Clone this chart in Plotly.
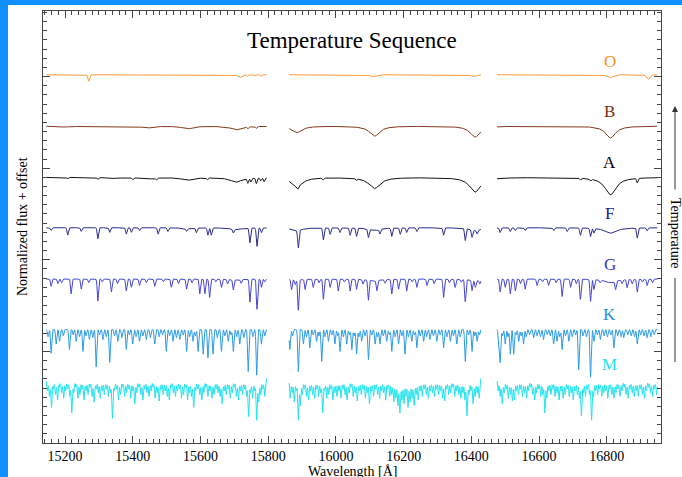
import numpy as np
import plotly.graph_objects as go

# ---------------- data ----------------
CHUNK_START = [15145, 15862, 16476]
CHUNK_END = [15795, 16428, 16949]

STARS = ["O", "B", "A", "F", "G", "K", "M"]
LEVELS = [4.02, 3.46, 2.90, 2.35, 1.79, 1.24, 0.71]      # continuum level (normalized flux + offset)
LABEL_Y = [4.17, 3.62, 3.06, 2.51, 1.95, 1.40, 0.86]
LABEL_WL = 16808
COLORS = ["#ff9a3c", "#84391c", "#111111", "#2a2a8c", "#4444d4", "#2b9ae8", "#22e4ee"]
LABEL_COLORS = ["#ff8c1a", "#7a2d12", "#000000", "#20207e", "#3434c8", "#1e94e0", "#1fe0ea"]

# Brackett series (hydrogen) and depths in % of continuum
BR_WL = [15197, 15265, 15345, 15443, 15561, 15705, 15885, 16114, 16411, 16811]
B_BR_DEPTH = [1, 1, 1, 2, 3, 4, 7, 11, 12, 13]
A_BR_DEPTH = [0, 0, 1, 2, 3, 5, 10, 12, 16, 19]
F_BR_DEPTH = [0, 0, 0, 0, 1, 2, 3, 3, 3, 6]
G_BR_DEPTH = [0, 0, 0, 0, 0, 1, 1, 2, 2, 4]

# O star features
O_WL = [15270, 15716, 15740, 15762, 15780, 16108, 16406, 16808, 16923]
O_DEPTH = [7, 3, 1.5, 1, 1.5, 2, 2, 3, 5]
O_SIGMA = [2.5, 6, 2, 2, 2, 10, 8, 10, 5]

# B star metal lines
B_WL = [15740, 15765]
B_DEPTH = [2, 2]

# A star metal lines
A_WL = [15208, 15297, 15400, 15470, 15620, 15740, 15749, 15765, 15778, 15788,
        15888, 15962, 16060, 16722, 16752, 16890]
A_DEPTH = [1.5, 2, 2, 2, 2, 5, 4, 6, 3, 4, 3, 2, 2, 2, 2, 5]

# F star lines
F_WL = [15159, 15208, 15248, 15297, 15332, 15381, 15396, 15420, 15475, 15504,
        15559, 15588, 15622, 15632, 15697, 15746, 15767, 15780,
        15889, 15963, 15983, 16012, 16042, 16061, 16096, 16130, 16165, 16190,
        16209, 16239, 16318, 16382, 16402, 16417,
        16485, 16515, 16530, 16559, 16643, 16683, 16722, 16752, 16762, 16890, 16919]
F_DEPTH = [3, 8, 4, 12, 5, 7, 5, 3, 7, 4,
           3, 5, 8, 8, 4, 16, 20, 5,
           19, 13, 7, 5, 8, 9, 9, 5, 9, 7,
           5, 4, 8, 13, 8, 4,
           5, 4, 3, 3, 3, 4, 8, 9, 5, 11, 3]

# G star lines
G_WL = [15159, 15179, 15218, 15248, 15297, 15337, 15381, 15396, 15420, 15465,
        15514, 15559, 15598, 15613, 15627, 15662, 15697, 15746, 15767, 15780,
        15869, 15889, 15909, 15933, 15963, 15983, 16007, 16042, 16061, 16096,
        16121, 16165, 16185, 16209, 16239, 16269, 16318, 16352, 16382, 16402, 16412,
        16485, 16500, 16515, 16530, 16559, 16594, 16628, 16668, 16693, 16722,
        16752, 16762, 16826, 16860, 16890, 16919,
        15190, 15270, 15310, 15355, 15440, 15490, 15535, 15575, 15645, 15680,
        15720, 15790, 15880, 15950, 16025, 16080, 16145, 16225, 16290, 16335,
        16370, 16425, 16545, 16610, 16650, 16710, 16780, 16845, 16875, 16905, 16935]
G_DEPTH = [8, 5, 16, 11, 24, 14, 13, 9, 7, 8,
           9, 11, 16, 16, 20, 9, 11, 25, 33, 9,
           11, 33, 11, 9, 22, 9, 13, 13, 11, 22,
           11, 16, 11, 13, 9, 7, 20, 9, 24, 11, 7,
           14, 9, 16, 13, 11, 7, 7, 19, 9, 22,
           24, 11, 9, 9, 14, 7,
           4, 4, 3, 5, 4, 3, 5, 4, 3, 5,
           4, 3, 5, 4, 3, 5, 4, 3, 5, 4,
           3, 4, 5, 3, 4, 5, 3, 4, 5, 3, 4]

# K star lines
K_WL = [15159, 15174, 15184, 15213, 15233, 15253, 15272, 15292, 15312, 15332,
        15356, 15381, 15400, 15420, 15440, 15465, 15499, 15519, 15539, 15559,
        15578, 15593, 15608, 15622, 15637, 15662, 15682, 15697, 15716, 15741,
        15766, 15780,
        15150, 15195, 15224, 15243, 15262, 15282, 15302, 15322, 15346, 15368,
        15390, 15410, 15430, 15452, 15478, 15488, 15509, 15529, 15549, 15568,
        15585, 15650, 15672, 15690, 15707, 15728, 15755, 15790,
        15864, 15889, 15904, 15923, 15943, 15958, 15978, 15997, 16012, 16032,
        16047, 16061, 16076, 16096, 16116, 16130, 16150, 16165, 16185, 16204,
        16224, 16239, 16259, 16278, 16298, 16318, 16338, 16357, 16382, 16402, 16417,
        15872, 15913, 15933, 15950, 15968, 15988, 16005, 16022, 16040, 16054,
        16068, 16086, 16106, 16123, 16140, 16158, 16175, 16195, 16214, 16232,
        16249, 16268, 16288, 16308, 16328, 16347, 16367, 16392, 16410, 16424,
        16481, 16485, 16500, 16515, 16525, 16540, 16554, 16584, 16613, 16643,
        16653, 16668, 16688, 16717, 16752, 16762, 16781, 16821, 16850, 16890, 16919,
        16492, 16508, 16532, 16547, 16562, 16572, 16594, 16604, 16624, 16633,
        16661, 16678, 16698, 16708, 16730, 16740, 16772, 16792, 16802, 16812,
        16832, 16842, 16862, 16872, 16882, 16900, 16910, 16930, 16940]
K_DEPTH = [26, 16, 13, 22, 13, 24, 11, 41, 11, 36,
           13, 22, 16, 13, 11, 16, 24, 13, 11, 24,
           13, 24, 27, 31, 27, 24, 13, 24, 16, 46,
           50, 16,
           8, 7, 6, 8, 7, 9, 6, 8, 7, 9,
           6, 8, 7, 9, 8, 6, 7, 9, 6, 8,
           7, 9, 7, 6, 8, 9, 8, 7,
           22, 46, 16, 20, 13, 35, 13, 16, 24, 16,
           22, 27, 13, 33, 16, 16, 13, 24, 16, 27,
           13, 20, 13, 11, 13, 20, 13, 16, 35, 24, 13,
           7, 8, 6, 7, 8, 6, 7, 8, 6, 7,
           8, 7, 6, 8, 7, 6, 8, 7, 8, 6,
           7, 8, 7, 6, 8, 7, 8, 6, 7, 6,
           16, 35, 16, 27, 27, 13, 16, 9, 11, 16,
           13, 22, 13, 44, 52, 13, 11, 20, 9, 16, 9,
           7, 8, 6, 7, 8, 6, 7, 8, 6, 7,
           8, 7, 8, 6, 7, 8, 6, 7, 8, 6,
           7, 8, 6, 7, 8, 6, 7, 8, 6]

# M star: dense line forest, one line every 6 A from each chunk start (depth in %)
M_STEP = 6
M_DEPTH_1 = [14, 20, 32, 12, 18, 24, 10, 16, 22, 14,
             12, 20, 38, 16, 10, 22, 18, 12, 24, 14,
             18, 10, 20, 26, 12, 16, 22, 14, 18, 12,
             20, 16, 44, 14, 12, 24, 18, 10, 20, 16,
             12, 22, 14, 28, 16, 10, 18, 24, 12, 16,
             20, 14, 10, 22, 16, 25, 12, 18, 14, 20,
             24, 10, 16, 20, 14, 12, 22, 18, 10, 24,
             16, 20, 32, 14, 12, 18, 24, 16, 10, 20,
             14, 22, 18, 12, 16, 20, 28, 14, 18, 12,
             22, 16, 10, 20, 24, 14, 18, 12, 20, 42,
             16, 22, 14, 46, 26, 18, 12, 20]
M_DEPTH_2 = [22, 16, 26, 14, 46, 30, 18, 12, 20, 24,
             14, 18, 22, 12, 20, 16, 38, 14, 22, 18,
             12, 24, 16, 20, 14, 22, 12, 18, 24, 16,
             10, 20, 16, 25, 14, 18, 12, 22, 16, 28,
             14, 20, 12, 18, 22, 14, 16, 24, 12, 20,
             18, 26, 22, 30, 38, 24, 28, 20, 32, 26,
             22, 30, 18, 24, 14, 20, 12, 18, 22, 14,
             16, 20, 12, 18, 14, 22, 25, 12, 18, 16,
             10, 20, 14, 18, 22, 16, 24, 41, 18, 14,
             28, 20, 16, 22]
M_DEPTH_3 = [14, 20, 28, 16, 12, 22, 18, 25, 24, 14,
             18, 12, 20, 16, 22, 14, 10, 18, 24, 16,
             12, 20, 18, 38, 22, 14, 18, 12, 20, 16,
             24, 14, 22, 18, 12, 20, 16, 24, 14, 18,
             22, 41, 16, 20, 12, 18, 46, 20, 14, 18,
             12, 20, 16, 14, 22, 12, 18, 22, 16, 12,
             20, 14, 10, 18, 22, 12, 16, 20, 14, 20,
             12, 18, 22, 14, 10, 16, 20, 12, 18]

X_TICKS = [15200, 15400, 15600, 15800, 16000, 16200, 16400, 16600, 16800]
X_TICK_TEXT = ["15200", "15400", "15600", "15800", "16000", "16200", "16400", "16600", "16800"]

# ---------------- build spectra ----------------
FONT = "Liberation Serif, Times New Roman, serif"


def grid():
    xs = []
    for s, e in zip(CHUNK_START, CHUNK_END):
        xs.append(np.arange(s, e + 0.25, 0.5))
    return xs


def absorb(wl, centers, depths, sigma):
    f = np.zeros_like(wl)
    sig = sigma if np.ndim(sigma) else [sigma] * len(centers)
    for c, d, s in zip(centers, depths, sig):
        f += d / 100.0 * np.exp(-0.5 * ((wl - c) / s) ** 2)
    return f


def brackett(wl, depths, gamma):
    f = np.zeros_like(wl)
    for c, d in zip(BR_WL, depths):
        f += d / 100.0 * gamma ** 2 / ((wl - c) ** 2 + gamma ** 2)
    return f


def flux(star, wl, ci):
    if star == "O":
        return 1 - absorb(wl, O_WL, O_DEPTH, O_SIGMA)
    if star == "B":
        return 1 - brackett(wl, B_BR_DEPTH, 18) - absorb(wl, B_WL, B_DEPTH, 2.0)
    if star == "A":
        return 1 - brackett(wl, A_BR_DEPTH, 20) - absorb(wl, A_WL, A_DEPTH, 2.0)
    if star == "F":
        return 1 - brackett(wl, F_BR_DEPTH, 20) - absorb(wl, F_WL, F_DEPTH, 2.0)
    if star == "G":
        return 1 - brackett(wl, G_BR_DEPTH, 20) - absorb(wl, G_WL, G_DEPTH, 1.9)
    if star == "K":
        return 1 - absorb(wl, K_WL, K_DEPTH, 1.8)
    if star == "M":
        dep = [M_DEPTH_1, M_DEPTH_2, M_DEPTH_3][ci]
        centers = [CHUNK_START[ci] + 3 + M_STEP * i for i in range(len(dep))]
        return 1 - absorb(wl, centers, dep, 1.8)


fig = go.Figure()
grids = grid()
for si, star in enumerate(STARS):
    xs, ys = [], []
    for ci, wl in enumerate(grids):
        f = flux(star, wl, ci)
        xs.extend(wl.tolist())
        ys.extend((LEVELS[si] + f - 1).tolist())
        xs.append(None)
        ys.append(None)
    fig.add_trace(go.Scatter(x=xs, y=ys, mode="lines",
                             line=dict(color=COLORS[si], width=1),
                             hoverinfo="skip", showlegend=False))

# ---------------- layout ----------------
# page-level geometry: blue frame 8 px on the left, 5 px on top
PAGE_W, PAGE_H = 682, 477
FRAME_L, FRAME_T = 8, 5
PL, PR, PT, PB = 43, 661, 11, 443          # plot box in page pixels
W, H = PAGE_W - FRAME_L, PAGE_H - FRAME_T
PW, PH = PR - PL, PB - PT


def px_x(px):
    return (px - PL) / PW


def px_y(py):
    return (PB - py) / PH


annotations = [
    dict(text="Temperature Sequence", x=0.5, y=px_y(41), xref="paper", yref="paper",
         showarrow=False, font=dict(family=FONT, size=23, color="black"),
         xanchor="center", yanchor="middle"),
    dict(text="Normalized flux + offset", x=px_x(22), y=0.5, xref="paper", yref="paper",
         showarrow=False, textangle=-90, font=dict(family=FONT, size=14, color="black"),
         xanchor="center", yanchor="middle"),
    dict(text="Wavelength [Å]", x=0.5, y=px_y(472), xref="paper", yref="paper",
         showarrow=False, font=dict(family=FONT, size=14, color="black"),
         xanchor="center", yanchor="middle"),
    dict(text="Temperature", x=px_x(675), y=px_y(233), xref="paper", yref="paper",
         showarrow=False, textangle=90, font=dict(family=FONT, size=14, color="black"),
         xanchor="center", yanchor="middle"),
    dict(text="", x=px_x(675), y=px_y(106), xref="paper", yref="paper",
         showarrow=True, ax=0, ay=85, arrowhead=2, arrowsize=1.2, arrowwidth=1,
         arrowcolor="#333333"),
]
for si, star in enumerate(STARS):
    annotations.append(dict(text=star, x=LABEL_WL, y=LABEL_Y[si], xref="x", yref="y",
                            showarrow=False,
                            font=dict(family=FONT, size=17, color=LABEL_COLORS[si]),
                            xanchor="center", yanchor="middle"))

shapes = [
    dict(type="line", xref="paper", yref="paper", x0=px_x(675), x1=px_x(675),
         y0=px_y(278), y1=px_y(362), line=dict(color="#333333", width=1)),
]

axcol = "#444444"
fig.update_layout(
    width=W, height=H,
    margin=dict(l=PL - FRAME_L, r=PAGE_W - PR, t=PT - FRAME_T, b=PAGE_H - PB),
    paper_bgcolor="white", plot_bgcolor="white",
    showlegend=False,
    annotations=annotations,
    shapes=shapes,
    xaxis=dict(range=[15135, 16960], tickvals=X_TICKS, ticktext=X_TICK_TEXT,
               ticks="inside", ticklen=7,
               tickwidth=1, tickcolor=axcol, showline=True, linecolor=axcol,
               linewidth=1, mirror="allticks", showgrid=False, zeroline=False,
               minor=dict(dtick=20, ticks="inside", ticklen=4, tickcolor=axcol,
                          showgrid=False),
               tickfont=dict(family=FONT, size=14, color="black")),
    yaxis=dict(range=[0, 4.716], tick0=0, dtick=1, ticks="inside", ticklen=7,
               tickwidth=1, tickcolor=axcol, showline=True, linecolor=axcol,
               linewidth=1, mirror="allticks", showgrid=False, zeroline=False,
               showticklabels=False,
               minor=dict(dtick=0.1, ticks="inside", ticklen=4, tickcolor=axcol,
                          showgrid=False)),
)

fig.write_html("out.html",
               config={"displayModeBar": False},
               post_script="document.documentElement.style.margin='0';"
                           "document.documentElement.style.background='#1090ff';"
                           "document.body.style.background='#1090ff';"
                           "document.body.style.margin='%dpx 0 0 %dpx';"
                           "document.body.style.padding='0';"
                           "document.body.style.overflow='hidden';" % (FRAME_T, FRAME_L))
